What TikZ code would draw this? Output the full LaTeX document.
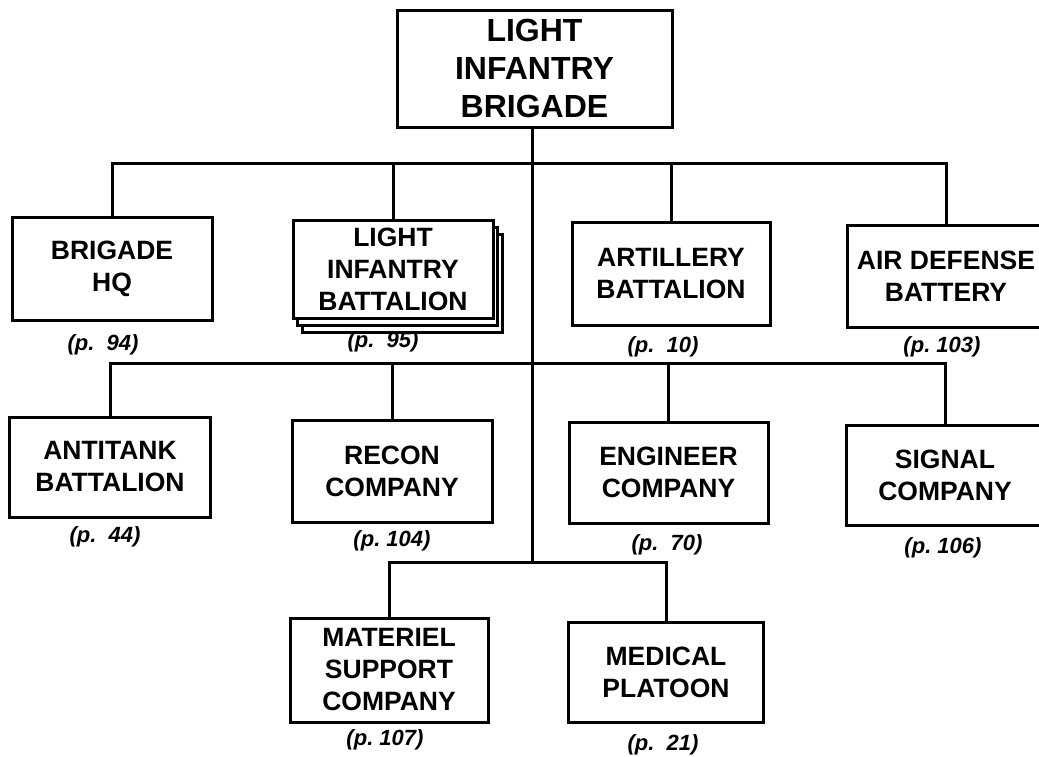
\documentclass[tikz,border=0pt]{standalone}
\usepackage{fontspec}
\setmainfont{Liberation Sans}
\begin{document}
\begin{tikzpicture}[x=1pt,y=-1pt,
  line width=3pt,
  unit/.style={draw, fill=white, align=center, inner sep=0pt,
    font=\bfseries\fontsize{26.5}{32}\selectfont},
  topunit/.style={unit, font=\bfseries\fontsize{32}{38}\selectfont},
  page/.style={font=\bfseries\itshape\fontsize{22}{26}\selectfont, inner sep=0pt}
]
\useasboundingbox (0,0) rectangle (1039,756);
\fill[white] (0,0) rectangle (1039,756);

% top
\node[topunit, minimum width=275pt, minimum height=117pt] (top) at (534.5,68.5) {LIGHT\\INFANTRY\\BRIGADE};

% row 1
\node[unit, minimum width=200pt, minimum height=103pt] (hq) at (112,268.5) {BRIGADE\\HQ};
\draw[fill=white] (302,234) rectangle (502,332);
\draw[fill=white] (297.5,227) rectangle (497.5,325);
\node[unit, minimum width=200pt, minimum height=98pt] (lib) at (393,269) {LIGHT\\INFANTRY\\BATTALION};
\node[unit, minimum width=198pt, minimum height=103pt] (art) at (671,273.5) {ARTILLERY\\BATTALION};
\node[unit, minimum width=198pt, minimum height=102pt] (ad) at (946,276) {AIR DEFENSE\\BATTERY};

% row 2
\node[unit, minimum width=201pt, minimum height=100pt] (at) at (110,467) {ANTITANK\\BATTALION};
\node[unit, minimum width=200pt, minimum height=102pt] (rc) at (392,471) {RECON\\COMPANY};
\node[unit, minimum width=199pt, minimum height=101pt] (en) at (668.5,472.5) {ENGINEER\\COMPANY};
\node[unit, minimum width=198pt, minimum height=100pt] (sg) at (945,475) {SIGNAL\\COMPANY};

% row 3
\node[unit, minimum width=198pt, minimum height=104pt] (ms) at (389,670) {MATERIEL\\SUPPORT\\COMPANY};
\node[unit, minimum width=195pt, minimum height=100pt] (md) at (666,672) {MEDICAL\\PLATOON};

% page labels
\node[page] (p94) at (103,345) {(p.~~94)};
\node[page] (p95) at (383,342) {(p.~~95)};
\node[page] (p10) at (663,347) {(p.~~10)};
\node[page] (p103) at (942,347) {(p.~103)};
\node[page] (p44) at (105,537) {(p.~~44)};
\node[page] (p104) at (392,541) {(p.~104)};
\node[page] (p70) at (667,545) {(p.~~70)};
\node[page] (p106) at (943,548) {(p.~106)};
\node[page] (p107) at (385,740) {(p.~107)};
\node[page] (p21) at (663,745) {(p.~~21)};

% connectors
\coordinate (b1) at (532,163);
\coordinate (b2) at (532,363);
\coordinate (b3) at (532,562);
\draw (top.south -| b1) -- (b3);
\draw (hq.north) |- (b1) -| (ad.north);
\draw (lib.north) -- (lib.north |- b1);
\draw (art.north) -- (art.north |- b1);
\draw (at.north) |- (b2) -| (sg.north);
\draw (rc.north) -- (rc.north |- b2);
\draw (en.north) -- (en.north |- b2);
\draw (ms.north) |- (b3) -| (md.north);
\end{tikzpicture}
\end{document}
